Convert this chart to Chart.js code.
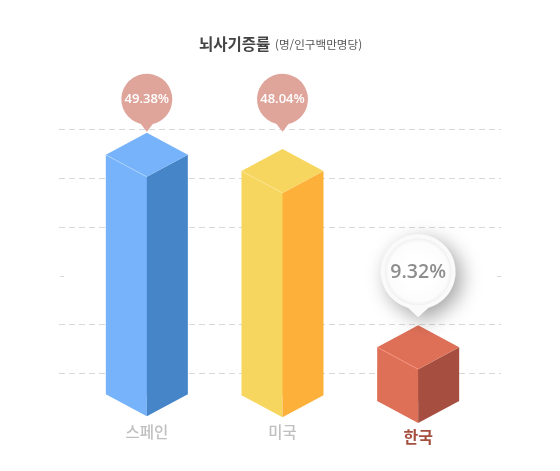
<!DOCTYPE html>
<html lang="ko">
<head>
<meta charset="utf-8">
<title>뇌사기증률</title>
<style>
    html, body { margin: 0; padding: 0; background: #fff; }
    canvas { display: block; }
</style>
<script src="https://cdn.jsdelivr.net/npm/chart.js@4"></script>
</head>
<body>
<canvas id="myChart" width="560" height="471"></canvas>
<script>
const countries = ['스페인', '미국', '한국'];
const printedValues = ['49.38%', '48.04%', '9.32%'];
// bars in the picture are not to scale with the printed numbers, so these are read off the gridlines
const barTops = [50.2, 46.9, 10.8];
const barBases = [5.7, 5.5, 4.3];
const yTicks = [10, 20, 30, 40, 50, 60];

const leftColors = ['#76b3fb', '#f7d65f', '#de7058'];
const rightColors = ['#4585c8', '#fdb13b', '#a64f40'];
const edgeColors = ['#a9d0fc', '#fbe38d', '#f4917b'];
const highlighted = 2;
const koFont = '"Noto Sans CJK KR", "Noto Sans", sans-serif';

function poly(ctx, pts, fill) {
    ctx.beginPath();
    pts.forEach((p, i) => i ? ctx.lineTo(p[0], p[1]) : ctx.moveTo(p[0], p[1]));
    ctx.closePath();
    ctx.fillStyle = fill;
    ctx.fill();
}

function bubblePath(ctx, cx, cy, r, tipY, tail) {
    const a = Math.asin(tail / r);
    ctx.beginPath();
    ctx.arc(cx, cy, r, Math.PI / 2 + a, Math.PI / 2 - a);
    ctx.lineTo(cx, tipY);
    ctx.closePath();
}

const gridPlugin = {
    id: 'dashGrid',
    beforeDatasetsDraw(chart) {
        const ctx = chart.ctx;
        const y = chart.scales.y;
        ctx.save();
        ctx.strokeStyle = '#d8d8d8';
        ctx.lineWidth = 1;
        ctx.setLineDash([6, 4]);
        y.ticks.forEach(t => {
            if (!yTicks.includes(t.value)) return;
            const py = Math.round(y.getPixelForValue(t.value)) + 0.5;
            ctx.beginPath();
            if (t.value === 30) {
                // this one only shows as two stubs at the ends
                ctx.moveTo(60, py); ctx.lineTo(64, py);
                ctx.moveTo(497, py); ctx.lineTo(501, py);
            } else {
                ctx.moveTo(59, py); ctx.lineTo(501, py);
            }
            ctx.stroke();
        });
        ctx.restore();
    }
};

const cubePlugin = {
    id: 'cubes',
    afterDatasetsDraw(chart) {
        const ctx = chart.ctx;
        const meta = chart.getDatasetMeta(0);
        const yScale = chart.scales.y;
        meta.data.forEach((bar, i) => {
            const x = bar.x, w = bar.width / 2 + 1, top = bar.y, base = bar.base;
            const rise = 22;
            // rest of the left face, right face, top
            poly(ctx, [[x - w, top - rise], [x, top], [x, base + rise], [x - w, base]], leftColors[i]);
            poly(ctx, [[x + w, top - rise], [x, top], [x, base + rise], [x + w, base]], rightColors[i]);
            poly(ctx, [[x, top - 2 * rise], [x + w, top - rise], [x, top], [x - w, top - rise]], leftColors[i]);
            ctx.save();
            ctx.strokeStyle = edgeColors[i];
            ctx.lineWidth = 1;
            ctx.beginPath();
            ctx.moveTo(x - w, top - rise);
            ctx.lineTo(x, top);
            ctx.stroke();
            ctx.restore();

            // callouts
            const apex = top - 2 * rise;
            ctx.save();
            ctx.textAlign = 'center';
            ctx.textBaseline = 'middle';
            if (i === highlighted) {
                const tipY = apex - 8, r = 37.5, cy = tipY - 45.5;
                ctx.save();
                ctx.shadowColor = 'rgba(0,0,0,0.36)';
                ctx.shadowBlur = 20;
                ctx.shadowOffsetX = 6;
                ctx.shadowOffsetY = 6;
                ctx.fillStyle = '#fafafa';
                bubblePath(ctx, x, cy, r, tipY, 10);
                ctx.fill();
                ctx.restore();
                const g = ctx.createRadialGradient(x, cy, 14, x, cy, r - 4);
                g.addColorStop(0, '#ffffff');
                g.addColorStop(0.8, '#fcfcfc');
                g.addColorStop(1, '#f0f0f0');
                ctx.fillStyle = g;
                ctx.beginPath();
                ctx.arc(x, cy, r - 4, 0, Math.PI * 2);
                ctx.fill();
                ctx.fillStyle = '#8e8e8e';
                ctx.font = '600 19.5px "Open Sans", sans-serif';
                ctx.fillText(printedValues[i], x, cy + 1);
            } else {
                const tipY = yScale.getPixelForValue(59.45), r = 25.5, cy = tipY - 32.5;
                ctx.fillStyle = '#dfa59b';
                bubblePath(ctx, x, cy, r, tipY, 6);
                ctx.fill();
                ctx.fillStyle = '#ffffff';
                ctx.font = '600 13px "Open Sans", sans-serif';
                ctx.fillText(printedValues[i], x, cy);
            }
            ctx.restore();
        });
    },
    afterDraw(chart) {
        const ctx = chart.ctx;
        const xScale = chart.scales.x;
        ctx.save();
        ctx.textBaseline = 'middle';
        ctx.textAlign = 'center';
        countries.forEach((c, i) => {
            const px = xScale.getPixelForTick(i);
            if (i === highlighted) {
                ctx.font = '700 16px ' + koFont;
                ctx.fillStyle = '#a5503f';
                ctx.fillText(c, px, 437);
            } else {
                ctx.font = '500 15.5px ' + koFont;
                ctx.fillStyle = '#c0c0c0';
                ctx.fillText(c, px, 432);
            }
        });
        // title, two sizes so it can't go through the title plugin
        ctx.textAlign = 'left';
        ctx.font = '700 15.5px ' + koFont;
        ctx.fillStyle = '#444444';
        ctx.fillText('뇌사기증률', 199, 44);
        ctx.font = '400 11.6px ' + koFont;
        ctx.fillStyle = '#555555';
        ctx.fillText('(명/인구백만명당)', 275, 45);
        ctx.restore();
    }
};

new Chart(document.getElementById('myChart').getContext('2d'), {
    type: 'bar',
    data: {
        labels: countries,
        datasets: [{
            data: barTops.map((t, i) => [barBases[i], t]),
            backgroundColor: leftColors,
            borderWidth: 0,
            barThickness: 80
        }]
    },
    options: {
        responsive: false,
        animation: false,
        devicePixelRatio: 1,
        layout: { padding: { left: 79, right: 74, top: 129, bottom: 49 } },
        plugins: { legend: { display: false }, tooltip: { enabled: false } },
        scales: {
            x: { display: false },
            y: { display: false, min: 0, max: 60, ticks: { stepSize: 10 } }
        }
    },
    plugins: [gridPlugin, cubePlugin]
});
</script>
</body>
</html>
